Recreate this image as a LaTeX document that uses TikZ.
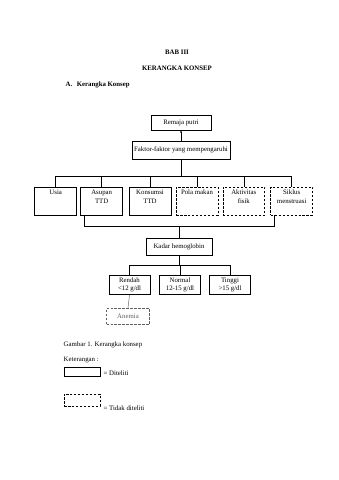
\documentclass[tikz,border=0pt]{standalone}
\usepackage{fontspec}
\setmainfont{Liberation Serif}
\usepackage{tikz}
\usetikzlibrary{arrows.meta}
\definecolor{anemiaGray}{RGB}{95,95,95}
\newcommand{\rowtext}[1]{\parbox[c][15mm][t]{24mm}{\centering\strut #1}}
\tikzset{
  solidbox/.style={draw, line width=1.1pt, inner sep=3pt, align=center},
  dashedbox/.style={solidbox, dash pattern=on 4.5pt off 2.5pt},
  rowbox/.style={minimum width=26mm, minimum height=17.3mm, inner sep=0pt},
  levelbox/.style={minimum width=25.4mm, minimum height=11.8mm},
  link/.style={line width=0.8pt},
}

\begin{document}
\begin{tikzpicture}[x=0.6195mm, y=-0.6195mm, font=\fontsize{12pt}{15pt}\selectfont]
    \useasboundingbox (0,0) rectangle (339,480);
    % heading
    \node (bab) at (177,52.5) {\textbf{BAB III}};
    \node (judul) at (177,68) {\textbf{KERANGKA KONSEP}};
    \node[anchor=west] (subjudul) at (63.7,84.5) {\textbf{A.\hspace{8pt}Kerangka Konsep}};
    % boxes
    \node[solidbox, minimum width=37.2mm, minimum height=9.3mm] (remaja) at (181,122.5) {Remaja putri};
    \node[solidbox, minimum width=60.7mm, minimum height=11.2mm] (faktor) at (181,150) {Faktor-faktor yang mempengaruhi};
    \node[solidbox, rowbox] (usia) at (55.7,201) {\rowtext{Usia}};
    \node[solidbox, rowbox] (asupan) at (101.7,201) {\rowtext{Asupan\\TTD}};
    \node[solidbox, rowbox] (konsumsi) at (150,201) {\rowtext{Konsumsi\\TTD}};
    \node[dashedbox, rowbox] (pola) at (197,201) {\rowtext{Pola makan}};
    \node[dashedbox, rowbox] (aktivitas) at (243.8,201) {\rowtext{Aktivitas\\fisik}};
    \node[dashedbox, rowbox] (siklus) at (291.7,201) {\rowtext{Siklus\\menstruasi}};
    \node[solidbox, minimum width=40.9mm, minimum height=10.5mm] (kadar) at (179,246.7) {Kadar hemoglobin};
    \node[solidbox, levelbox] (rendah) at (129.5,285) {Rendah\\<12 g/dl};
    \node[solidbox, levelbox] (normal) at (180,285) {Normal\\12-15 g/dl};
    \node[solidbox, levelbox] (tinggi) at (230,285) {Tinggi\\>15 g/dl};
    \node[dashedbox, draw=anemiaGray, text=anemiaGray, line width=0.7pt, minimum width=26.6mm, minimum height=9.9mm] (anemia) at (128,316.3) {Anemia};
    % connectors
    \coordinate (topbus) at (0,176);
    \coordinate (botbus) at (0,226.7);
    \coordinate (hbbus) at (0,265);
    \coordinate (asupanfoot) at ([xshift=2.5mm]asupan.south west);
    \coordinate (siklusfoot) at ([xshift=2.5mm]siklus.south west);
    \draw[link, -{Stealth[length=4.5pt, width=3.5pt]}] (faktor.north) -- (remaja.south);
    \draw[link] (faktor.south) -- (faktor.south |- topbus);
    \draw[link] (usia.north) -- (usia.north |- topbus) -- (siklus.north |- topbus) -- (siklus.north);
    \foreach \b in {asupan,konsumsi,pola,aktivitas}
        \draw[link] (\b.north) -- (\b.north |- topbus);
    \draw[link] (asupanfoot) -- (asupanfoot |- botbus) -- (siklusfoot |- botbus) -- (siklusfoot);
    \draw[link] (kadar.north) -- (kadar.north |- botbus);
    \draw[link] (kadar.south) -- (kadar.south |- hbbus);
    \draw[link] (rendah.north) -- (rendah.north |- hbbus) -- (tinggi.north |- hbbus) -- (tinggi.north);
    \draw[link] (normal.north) -- (normal.north |- hbbus);
    \draw[link, anemiaGray] (rendah.south) -- (anemia.north);
    % legend
    \node[anchor=west] (gambar) at (61.7,345) {Gambar 1. Kerangka konsep};
    \node[anchor=west] (keterangan) at (61.7,360) {Keterangan :};
    \node[solidbox, inner sep=0pt, minimum width=22.3mm, minimum height=5.8mm] (legsolid) at (82,372) {};
    \node[anchor=west] (legsolidtxt) at (101.7,373.5) {= Diteliti};
    \node[dashedbox, inner sep=0pt, minimum width=22.3mm, minimum height=7.4mm] (legdash) at (82,400) {};
    \node[anchor=west] (legdashtxt) at (101.7,408) {= Tidak diteliti};
\end{tikzpicture}
\end{document}
